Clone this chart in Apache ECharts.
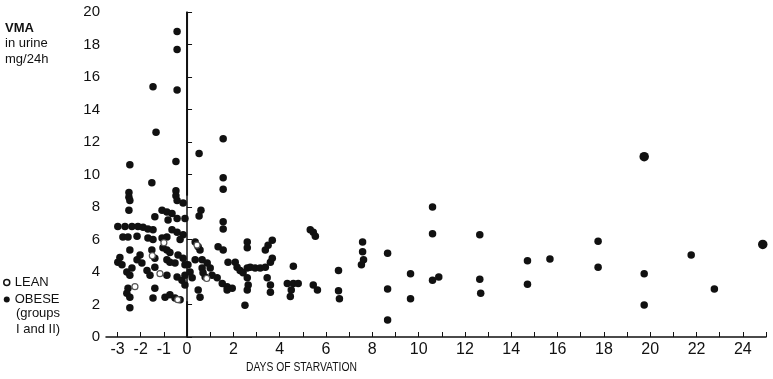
<!DOCTYPE html>
<html><head><meta charset="utf-8">
<script src="https://cdn.jsdelivr.net/npm/echarts@6/dist/echarts.min.js"></script>
<style>html,body{margin:0;padding:0;background:#fff}#c{width:773px;height:379px}</style>
</head><body><div id="c"></div>
<script>
// Tick values
const xTickValues = [-3,-2,-1,0,1,2,3,4,5,6,7,8,9,10,11,12,13,14,15,16,17,18,19,20,21,22,23,24,25];
const xLabelValues = [-3,-2,-1,0,2,4,6,8,10,12,14,16,18,20,22,24];
// Obese, before starvation (days, VMA mg/24h)
const obesePre = [
[-0.43,18.8],[-0.43,17.7],[-1.47,15.4],[-0.43,15.2],[-1.34,12.6],[-2.47,10.6],[-0.48,10.8],[-1.52,9.5],
[-2.51,8.9],[-2.51,8.6],[-2.47,8.4],[-2.51,7.8],[-0.48,9.0],[-0.48,8.7],[-0.43,8.4],[-0.17,8.25],
[-1.08,7.8],[-0.87,7.7],[-0.65,7.6],[-1.39,7.4],[-0.82,7.2],[-0.43,7.3],[-0.09,7.3],
[-2.99,6.8],[-2.68,6.8],[-2.38,6.8],[-2.12,6.8],[-1.9,6.75],[-1.69,6.65],[-1.47,6.6],[-0.65,6.6],[-0.43,6.45],
[-2.77,6.15],[-2.55,6.15],[-2.16,6.2],[-1.69,6.1],[-1.47,6.0],[-1.08,6.1],[-0.87,6.15],[-0.17,6.3],[-0.3,6.0],
[-2.47,5.35],[-2.9,4.9],[-2.99,4.6],[-2.81,4.45],[-2.03,5.05],[-2.16,4.75],[-1.95,4.55],[-1.52,5.35],[-1.39,4.85],
[-1.04,5.5],[-0.87,5.35],[-0.74,5.2],[-0.87,4.75],[-0.74,4.6],[-0.52,4.55],[-0.39,5.05],[-0.17,4.85],[-0.09,4.45],
[-2.6,4.0],[-2.47,3.8],[-2.38,4.25],[-1.73,4.1],[-1.6,3.8],[-1.39,4.3],[-0.87,3.8],[-0.43,3.7],[-0.22,3.5],
[-2.55,3.0],[-2.6,2.7],[-2.47,2.45],[-1.39,3.0],[-1.47,2.4],[-0.95,2.45],[-0.74,2.6],[-0.52,2.4],[-0.3,2.3],
[-2.47,1.8],[-0.09,3.2],[-0.09,3.8]
];
// Obese, during starvation
const obesePost = [
[0.52,11.3],[1.56,12.2],[1.56,9.8],[1.56,9.1],[0.6,7.8],[0.52,7.45],[1.56,7.1],[1.56,6.65],
[0.35,5.85],[0.48,5.55],[0.56,5.35],[1.34,5.55],[1.56,5.35],[2.6,5.85],[2.6,5.5],[3.68,5.95],[3.5,5.65],[3.38,5.35],
[0.35,4.75],[0.65,4.75],[0.87,4.55],[1.0,4.25],[0.04,4.45],[0.13,4.0],[0.22,3.65],[0.65,4.25],[0.69,3.95],[0.78,3.7],
[1.08,3.8],[1.3,3.65],[1.52,3.3],[1.73,3.1],[1.77,4.6],[2.08,4.6],[2.16,4.3],[2.29,4.1],[2.42,3.95],
[2.6,4.25],[2.73,4.3],[2.94,4.25],[3.16,4.25],[3.38,4.3],[3.6,4.6],[3.68,4.85],
[2.6,3.65],[2.64,3.2],[2.6,2.9],[1.95,3.0],[1.73,2.9],[0.48,2.9],[0.56,2.45],[3.46,3.65],[3.6,3.2],[3.6,2.75],[2.5,1.95],
[4.59,4.35],[4.33,3.3],[4.59,3.3],[4.8,3.3],[4.5,2.9],[4.46,2.5],[5.32,6.6],[5.45,6.45],[5.54,6.2],[5.45,3.2],[5.63,2.9],
[6.54,4.1],[6.54,2.85],[6.58,2.35],[7.58,5.85],[7.58,5.25],[7.62,4.75],[7.53,4.45],
[8.66,5.15],[8.66,2.95],[8.66,1.05],[9.65,3.9],[9.65,2.35],[10.6,8.0],[10.6,6.35],[10.6,3.5],[10.87,3.7],
[12.64,6.3],[12.64,3.55],[12.68,2.7],[14.7,4.7],[14.7,3.25],[15.67,4.8],[17.75,5.9],[17.75,4.3],
[19.74,3.9],[19.74,1.97],[21.77,5.05],[22.77,2.95]
];
// Obese, larger dots
const obeseLarge = [[19.74,11.1],[24.86,5.7]];
// Lean subjects
const lean = [[-2.25,3.1],[-1.5,5.0],[-1.17,3.9],[0.43,5.66],[-0.4,2.3],[0.85,3.6],[-1.0,5.8]];
// Vertical marker at day 0
const zeroUpper = [[0,8.7],[0,20]];
const zeroLower = [[0,0],[0,2.2]];

const ink = '#111';
const font = 'Liberation Sans';
const chart = echarts.init(document.getElementById('c'));
chart.setOption({
  backgroundColor: '#fff',
  animation: false,
  textStyle: {fontFamily: font, color: ink},
  grid: {left: 106, right: 7, top: 12, bottom: 42},
  legend: {
    data: [
      {name:'LEAN', icon:'circle', itemStyle:{color:'#fff', borderColor: ink, borderWidth: 1.5}},
      {name:'OBESE', icon:'circle', itemStyle:{color: ink}}
    ],
    orient: 'vertical', left: 3, top: 276,
    itemWidth: 6, itemHeight: 6, itemGap: 4, padding: 0,
    textStyle: {fontFamily: font, fontSize: 13, color: ink}
  },
  graphic: [
    {type:'text', left: 5, top: 22, style:{text:'VMA', font:'bold 13px "Liberation Sans"', fill: ink}},
    {type:'text', left: 5, top: 37, style:{text:'in urine', font:'13px "Liberation Sans"', fill: ink}},
    {type:'text', left: 5, top: 53, style:{text:'mg/24h', font:'13px "Liberation Sans"', fill: ink}},
    {type:'text', left: 16, top: 307, style:{text:'(groups', font:'13px "Liberation Sans"', fill: ink}},
    {type:'text', left: 16, top: 323, style:{text:'I and II)', font:'13px "Liberation Sans"', fill: ink}},
    {type:'text', left: 246, top: 362, scaleX: 0.86, style:{text:'DAYS OF STARVATION', font:'12px "Liberation Sans"', fill: ink}}
  ],
  xAxis: {
    type: 'value', min: -3.5, max: 25,
    axisLine: {lineStyle: {color: ink, width: 1.5}},
    axisTick: {inside: true, length: 5, customValues: xTickValues, lineStyle:{color: ink}},
    axisLabel: {customValues: xLabelValues, fontSize: 16, color: ink, margin: 5, fontFamily: font},
    splitLine: {show: false}
  },
  yAxis: {
    type: 'value', min: 0, max: 20, interval: 2,
    axisLine: {show: true, lineStyle: {color: ink, width: 1.5}},
    axisTick: {show: true, inside: true, length: 5, lineStyle:{color: ink}},
    axisLabel: {fontSize: 15, color: ink, margin: 6, fontFamily: font},
    splitLine: {show: false}
  },
  series: [
    {name:'LEAN', type:'scatter', data: lean, symbol:'circle', symbolSize: 6,
     itemStyle:{color:'#fff', borderColor:'#555', borderWidth:1.2, opacity: 1}, z: 3},
    {name:'OBESE', type:'scatter', data: obesePre.concat(obesePost), symbol:'circle', symbolSize: 7.5,
     itemStyle:{color: ink, opacity: 1}, z: 2},
    {name:'OBESE', type:'scatter', data: obeseLarge, symbol:'circle', symbolSize: 9.5,
     itemStyle:{color: ink, opacity: 1}, z: 2},
    {name:'zeroU', type:'line', data: zeroUpper, symbol:'none', lineStyle:{color: ink, width: 2}, silent: true},
    {name:'zeroL', type:'line', data: zeroLower, symbol:'none', lineStyle:{color: ink, width: 2}, silent: true}
  ]
});
</script></body></html>
